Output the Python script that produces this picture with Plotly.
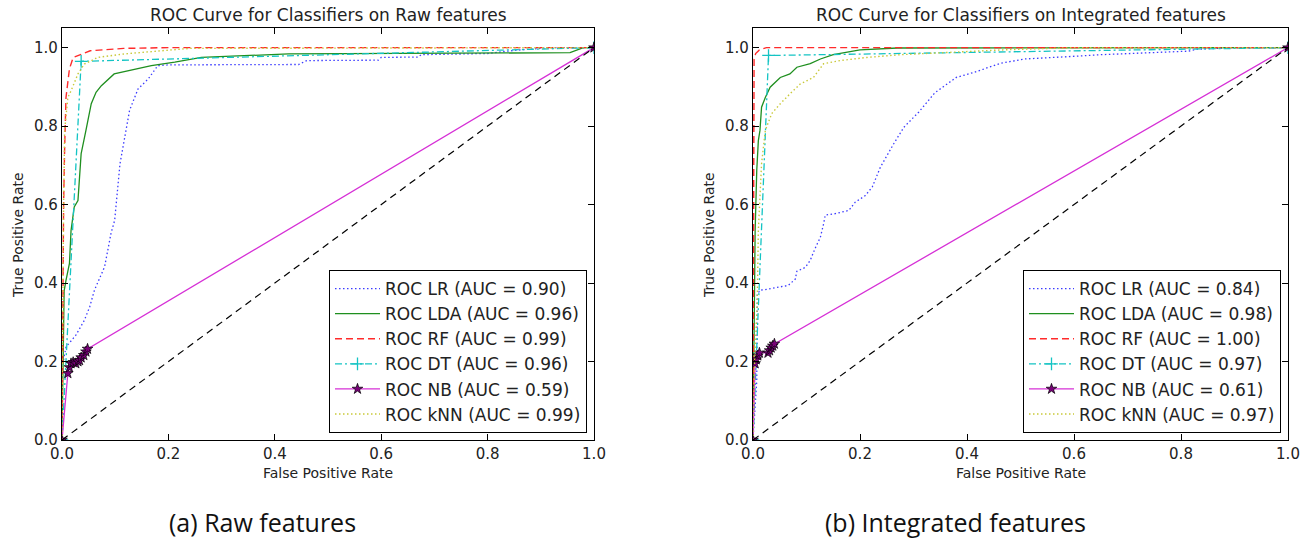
import plotly.graph_objects as go

# ---------------- data: raw features ----------------
lr_raw_fpr = [0, 0.001, 0.0075, 0.026, 0.042, 0.052, 0.061, 0.07, 0.08, 0.086, 0.092, 0.099, 0.109, 0.127, 0.143, 0.162, 0.18, 0.2, 0.445, 0.46, 0.595, 0.6, 0.67, 0.675, 0.8, 0.85, 0.92, 1.0]
lr_raw_tpr = [0, 0.19, 0.237, 0.267, 0.305, 0.339, 0.382, 0.411, 0.441, 0.483, 0.526, 0.56, 0.704, 0.84, 0.895, 0.92, 0.954, 0.956, 0.957, 0.967, 0.968, 0.975, 0.976, 0.982, 0.985, 0.993, 1.0, 1.0]
lda_raw_fpr = [0, 0.002, 0.004, 0.0075, 0.014, 0.017, 0.023, 0.03, 0.036, 0.045, 0.055, 0.064, 0.074, 0.098, 0.124, 0.168, 0.212, 0.262, 0.426, 0.955, 0.98, 1.0]
lda_raw_tpr = [0, 0.2, 0.38, 0.407, 0.45, 0.534, 0.594, 0.61, 0.73, 0.789, 0.857, 0.886, 0.903, 0.933, 0.941, 0.954, 0.963, 0.975, 0.984, 0.987, 1.0, 1.0]
rf_raw_fpr = [0, 0.001, 0.003, 0.005, 0.0075, 0.014, 0.021, 0.053, 0.116, 0.2, 1.0]
rf_raw_tpr = [0, 0.3, 0.6, 0.746, 0.873, 0.946, 0.975, 0.992, 0.998, 1.0, 1.0]
dt_raw_fpr = [0, 0.036, 1.0]
dt_raw_tpr = [0, 0.965, 1.0]
nb_raw_fpr = [0, 0.011, 0.014, 0.017, 0.021, 0.026, 0.03, 0.033, 0.036, 0.041, 0.045, 0.048, 1.0]
nb_raw_tpr = [0, 0.17, 0.185, 0.195, 0.198, 0.195, 0.2, 0.203, 0.21, 0.216, 0.225, 0.232, 1.0]
knn_raw_fpr = [0, 0.001, 0.003, 0.005, 0.011, 0.017, 0.03, 0.042, 0.067, 0.117, 0.18, 0.24, 1.0]
knn_raw_tpr = [0, 0.3, 0.6, 0.789, 0.873, 0.89, 0.933, 0.958, 0.975, 0.984, 0.992, 0.998, 1.0]

# ---------------- data: integrated features ----------------
lr_int_fpr = [0, 0.007, 0.008, 0.013, 0.022, 0.047, 0.066, 0.079, 0.082, 0.098, 0.107, 0.116, 0.126, 0.132, 0.135, 0.154, 0.179, 0.191, 0.21, 0.223, 0.238, 0.263, 0.282, 0.31, 0.34, 0.38, 0.413, 0.463, 0.507, 0.589, 0.651, 0.814, 0.83, 0.9, 1.0]
lr_int_tpr = [0, 0.15, 0.37, 0.382, 0.383, 0.389, 0.394, 0.41, 0.43, 0.44, 0.458, 0.488, 0.517, 0.551, 0.573, 0.577, 0.585, 0.606, 0.623, 0.645, 0.695, 0.755, 0.797, 0.836, 0.885, 0.924, 0.937, 0.96, 0.971, 0.977, 0.982, 0.991, 0.996, 1.0, 1.0]
lda_int_fpr = [0, 0.001, 0.003, 0.004, 0.007, 0.01, 0.013, 0.016, 0.023, 0.032, 0.051, 0.069, 0.082, 0.107, 0.126, 0.15, 0.2, 0.27, 1.0]
lda_int_tpr = [0, 0.2, 0.35, 0.534, 0.687, 0.763, 0.789, 0.848, 0.873, 0.899, 0.924, 0.933, 0.95, 0.959, 0.971, 0.982, 0.994, 0.999, 1.0]
rf_int_fpr = [0, 0.0005, 0.001, 0.002, 0.005, 0.012, 0.025, 1.0]
rf_int_tpr = [0, 0.5, 0.8, 0.97, 0.985, 0.994, 1.0, 1.0]
dt_int_fpr = [0, 0.029, 1.0]
dt_int_tpr = [0, 0.98, 1.0]
nb_int_fpr = [0, 0.004, 0.006, 0.009, 0.012, 0.028, 0.031, 0.034, 0.037, 0.04, 1.0]
nb_int_tpr = [0, 0.195, 0.205, 0.215, 0.222, 0.222, 0.228, 0.235, 0.24, 0.245, 1.0]
knn_int_fpr = [0, 0.003, 0.008, 0.01, 0.016, 0.023, 0.035, 0.051, 0.069, 0.088, 0.113, 0.132, 0.163, 0.213, 0.276, 0.4, 0.463, 0.6, 1.0]
knn_int_tpr = [0, 0.2, 0.35, 0.534, 0.704, 0.789, 0.832, 0.857, 0.882, 0.907, 0.924, 0.959, 0.967, 0.975, 0.982, 0.991, 0.994, 1.0, 1.0]

diag = [0, 1]

raw_auc = {"LR": "0.90", "LDA": "0.96", "RF": "0.99", "DT": "0.96", "NB": "0.59", "kNN": "0.99"}
int_auc = {"LR": "0.84", "LDA": "0.98", "RF": "1.00", "DT": "0.97", "NB": "0.61", "kNN": "0.97"}

titles = ["ROC Curve for Classifiers on Raw features", "ROC Curve for Classifiers on Integrated features"]
captions = ["(a) Raw features", "(b) Integrated features"]
x_label = "False Positive Rate"
y_label = "True Positive Rate"
tick_vals = [0.0, 0.2, 0.4, 0.6, 0.8, 1.0]
tick_text = ["0.0", "0.2", "0.4", "0.6", "0.8", "1.0"]

FONT = "DejaVu Sans"
C = {"LR": "#3c3cff", "LDA": "#1f8f1f", "RF": "#ff2b2b", "DT": "#14c4c4", "NB": "#d630d6", "kNN": "#c9c93a"}

fig = go.Figure()

W, H = 1301, 538
panels = [
    dict(x0=62, x1=594, xa="x", ya="y", leg="legend", data={
        "LR": (lr_raw_fpr, lr_raw_tpr), "LDA": (lda_raw_fpr, lda_raw_tpr), "RF": (rf_raw_fpr, rf_raw_tpr),
        "DT": (dt_raw_fpr, dt_raw_tpr), "NB": (nb_raw_fpr, nb_raw_tpr), "kNN": (knn_raw_fpr, knn_raw_tpr)}, auc=raw_auc),
    dict(x0=753, x1=1288, xa="x2", ya="y2", leg="legend2", data={
        "LR": (lr_int_fpr, lr_int_tpr), "LDA": (lda_int_fpr, lda_int_tpr), "RF": (rf_int_fpr, rf_int_tpr),
        "DT": (dt_int_fpr, dt_int_tpr), "NB": (nb_int_fpr, nb_int_tpr), "kNN": (knn_int_fpr, knn_int_tpr)}, auc=int_auc),
]
top_px, bot_px = 28, 440

styles = {
    "LR": dict(line=dict(color=C["LR"], width=1.3, dash="1.5px,2.5px"), mode="lines"),
    "LDA": dict(line=dict(color=C["LDA"], width=1.3), mode="lines"),
    "RF": dict(line=dict(color=C["RF"], width=1.4, dash="7px,4px"), mode="lines"),
    "DT": dict(line=dict(color=C["DT"], width=1.3, dash="7px,3px,2px,3px"), mode="lines+markers",
               marker=dict(symbol="cross-thin", size=9, line=dict(color=C["DT"], width=1.3))),
    "NB": dict(line=dict(color=C["NB"], width=1.3), mode="lines+markers",
               marker=dict(symbol="star", size=8, color="#7a007a", line=dict(color="#000000", width=0.7))),
    "kNN": dict(line=dict(color=C["kNN"], width=1.4, dash="1.5px,2.5px"), mode="lines"),
}

for p in panels:
    for name in ["LR", "LDA", "RF", "DT", "NB", "kNN"]:
        fx, ty = p["data"][name]
        fig.add_trace(go.Scatter(x=fx, y=ty, name=f"ROC {name} (AUC = {p['auc'][name]})",
                                 xaxis=p["xa"], yaxis=p["ya"], legend=p["leg"], **styles[name]))
    fig.add_trace(go.Scatter(x=diag, y=diag, mode="lines", showlegend=False,
                             line=dict(color="#000000", width=1.2, dash="7px,5px"),
                             xaxis=p["xa"], yaxis=p["ya"]))

axis_common = dict(range=[0, 1], showgrid=False, zeroline=False, showline=True, linecolor="#000000",
                   linewidth=1.2, mirror="ticks", ticks="inside", ticklen=6, tickcolor="#000000",
                   automargin=False,
                   tickvals=tick_vals, ticktext=tick_text, tickfont=dict(family=FONT, size=15, color="#222222"))

layout = dict(width=W, height=H, margin=dict(l=0, r=0, t=0, b=0, autoexpand=False),
              paper_bgcolor="white", plot_bgcolor="white",
              font=dict(family=FONT, color="#222222"))
yd = [(H - bot_px) / H, (H - top_px) / H]
for i, p in enumerate(panels):
    sfx = "" if i == 0 else "2"
    layout["xaxis" + sfx] = dict(axis_common, domain=[p["x0"] / W, p["x1"] / W], anchor="y" + sfx)
    ya = dict(axis_common, domain=yd, anchor="x" + sfx)
    ya["range"] = [0, 1.05]
    layout["yaxis" + sfx] = ya
    leg = dict(x=(p["x1"] - 7) / W, y=(H - bot_px + 7) / H, xanchor="right", yanchor="bottom",
               bgcolor="white", bordercolor="#000000", borderwidth=1, itemwidth=45,
               font=dict(family=FONT, size=17, color="#222222"), tracegroupgap=0)
    layout["legend" if i == 0 else "legend2"] = leg


def ann(text, xpx, ypx, size, family=FONT, angle=0, color="#222222"):
    return dict(text=text, x=xpx / W, y=(H - ypx) / H, xref="paper", yref="paper",
                xanchor="center", yanchor="middle", showarrow=False, textangle=angle,
                font=dict(family=family, size=size, color=color))


annotations = []
for i, p in enumerate(panels):
    cx = (p["x0"] + p["x1"]) / 2
    annotations.append(ann(titles[i], cx, 15, 17))
    annotations.append(ann(x_label, cx, 473, 14))
    annotations.append(ann(y_label, p["x0"] - 44, 235, 14, angle=-90))
    annotations.append(ann(captions[i], cx - 66 if i == 0 else cx - 65, 522, 25, family="Open Sans", color="#111111"))
layout["annotations"] = annotations

fig.update_layout(**layout)
fig.write_html("out.html", config={"displayModeBar": False})

# remove default page margin so the figure sits at the top-left corner
with open("out.html", "r", encoding="utf-8") as f:
    html = f.read()
html = html.replace("<head>", "<head><style>html,body{margin:0;padding:0;overflow:hidden;}</style>", 1)
with open("out.html", "w", encoding="utf-8") as f:
    f.write(html)
